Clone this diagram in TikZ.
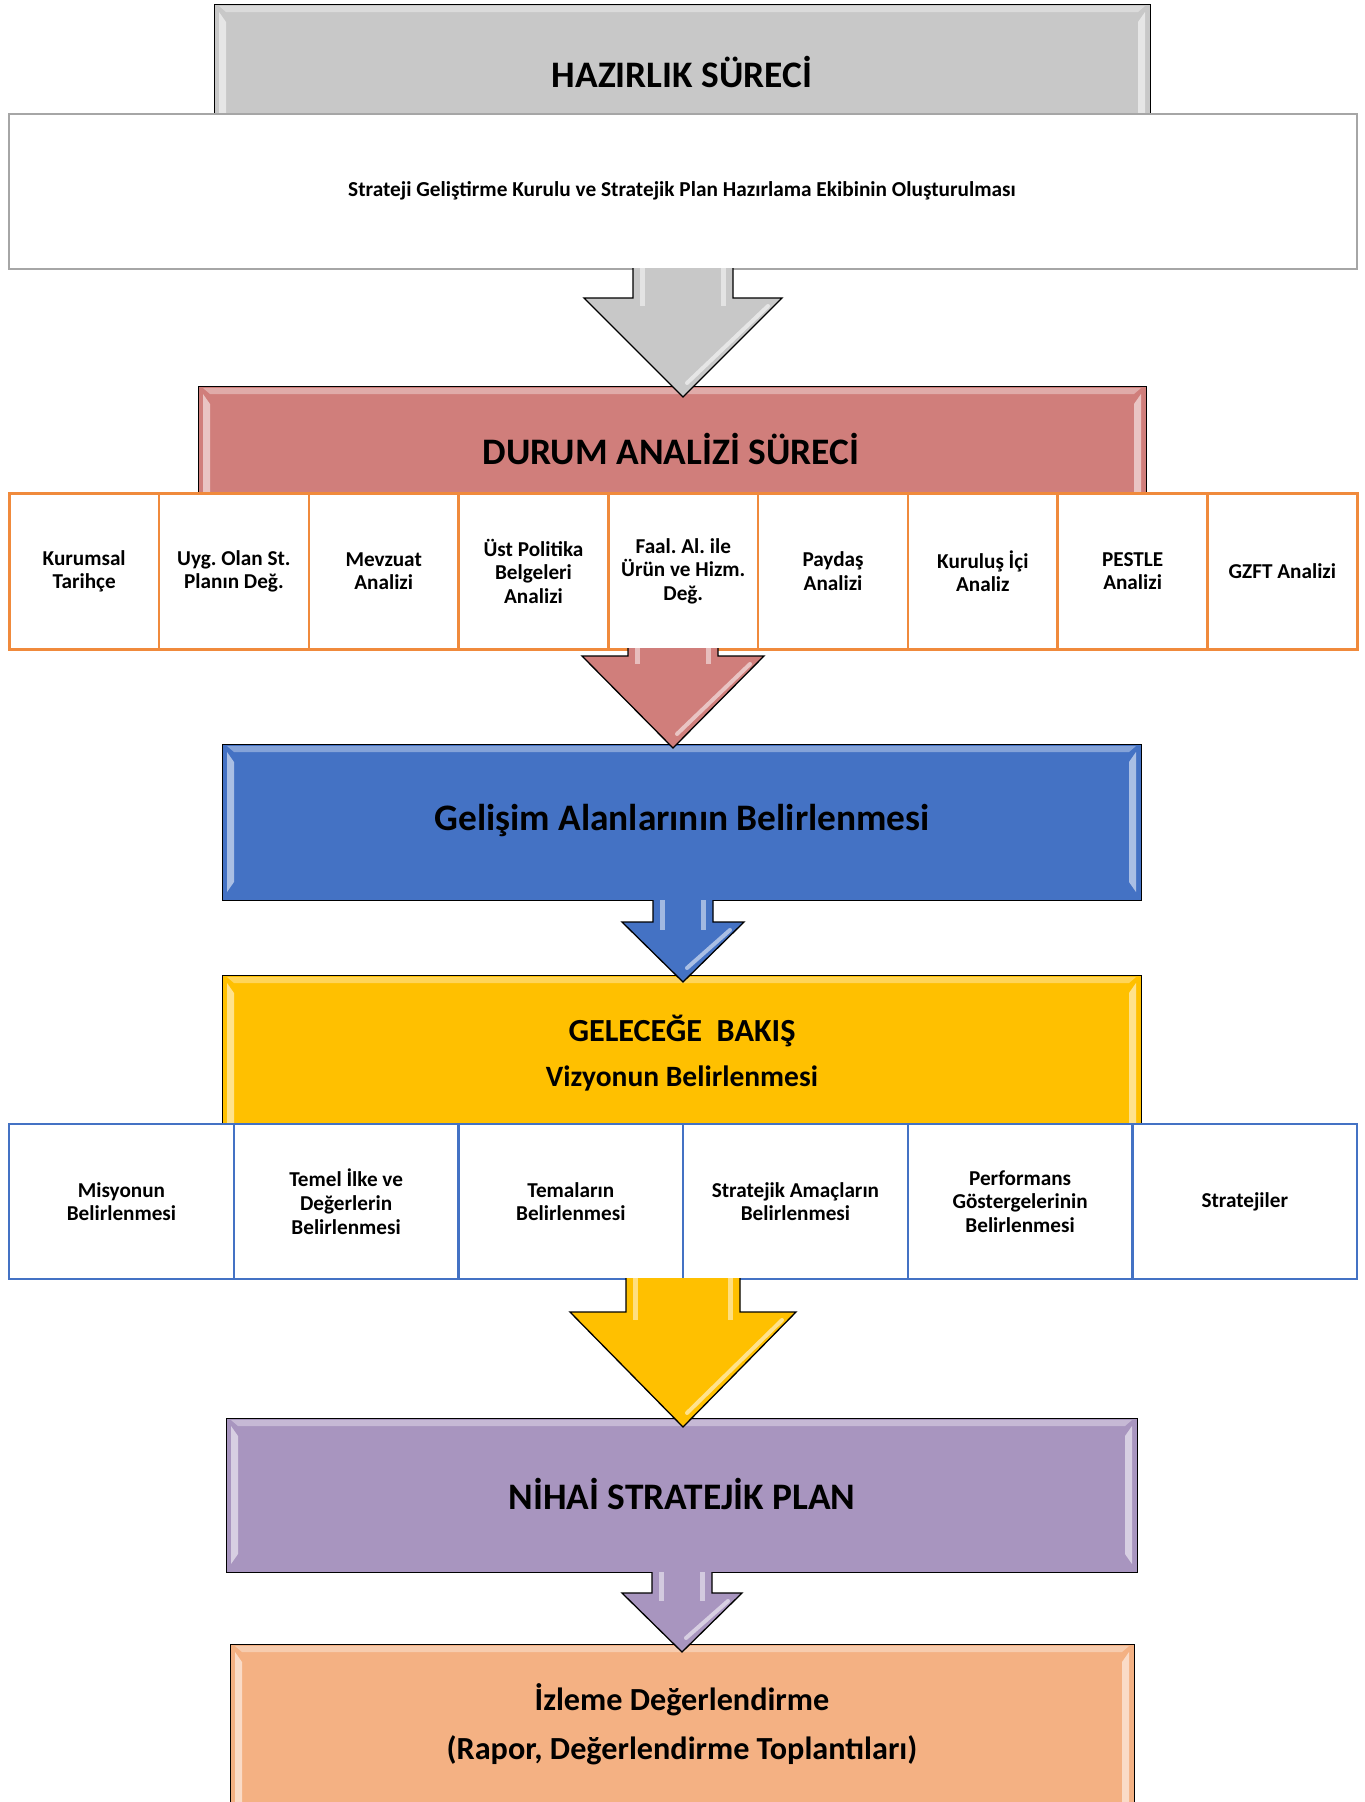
\documentclass[tikz,border=0pt]{standalone}
\usepackage{fontspec}
\setmainfont{Carlito}
\definecolor{grayF}{HTML}{C8C8C8}
\definecolor{redF}{HTML}{D07E7B}
\definecolor{blueF}{HTML}{4472C4}
\definecolor{yelF}{HTML}{FFC000}
\definecolor{purF}{HTML}{A895BF}
\definecolor{salF}{HTML}{F4B183}
\definecolor{orB}{HTML}{F08A3C}
\definecolor{grB}{HTML}{A6A6A6}
\definecolor{blB}{HTML}{4472C4}
\newcommand\bevelbox[4]{% x1 y1 x2 y2
  \fill[white,opacity=.55] (#1+5,#2+8) -- (#1+12,#2+18) -- (#1+12,#4-18) -- (#1+5,#4-8) -- cycle;
  \fill[white,opacity=.55] (#3-5,#2+8) -- (#3-12,#2+18) -- (#3-12,#4-18) -- (#3-5,#4-8) -- cycle;
  \fill[white,opacity=.35] (#1+5,#2+2) -- (#3-5,#2+2) -- (#3-12,#2+8) -- (#1+12,#2+8) -- cycle;
}
\newcommand\blkarrow[7]{% color, xc, yshaft, yhead, ytip, shaft hw, head hw
  \filldraw[fill=#1,draw=black,line width=1.3pt,line join=miter]
    (#2-#6,#3) -- (#2-#6,#4) -- (#2-#7,#4) -- (#2,#5) -- (#2+#7,#4) -- (#2+#6,#4) -- (#2+#6,#3);
  \fill[white,opacity=.5] (#2-#6+7,#3) rectangle (#2-#6+12,#4+8);
  \fill[white,opacity=.5] (#2+#6-12,#3) rectangle (#2+#6-7,#4+8);
  \draw[white,opacity=.55,line width=4pt,line cap=round] (#2+#7-14,#4+8) -- (#2+4,#5-14);
}
\begin{document}
\begin{tikzpicture}[x=1pt,y=-1pt,
  box/.style={draw=black,line width=1.3pt,anchor=north west,inner sep=0pt},
  ttl/.style={font=\fontsize{37.4}{41}\selectfont\bfseries,inner sep=0pt},
  sub/.style={font=\fontsize{32.2}{35}\selectfont\bfseries,inner sep=0pt},
  cellO/.style={draw=orB,line width=2.5pt,fill=white,anchor=north west,minimum width=149.8pt,minimum height=156pt,
     align=flush center,text width=140pt,inner sep=0pt,font=\fontsize{21.2}{23.6}\selectfont\bfseries\frenchspacing},
  cellB/.style={draw=blB,line width=2.2pt,fill=white,anchor=north west,minimum width=224.7pt,minimum height=155pt,
     align=flush center,text width=205pt,inner sep=0pt,font=\fontsize{21.2}{23.6}\selectfont\bfseries\frenchspacing}]
\useasboundingbox (0,0) rectangle (1365,1802);
\fill[white] (0,0) rectangle (1365,1802);

% gray box
\node[box,fill=grayF,minimum width=936pt,minimum height=200pt] (haz) at (214,4) {};
\bevelbox{214}{4}{1150}{204}
\node[draw=grB,line width=2.2pt,fill=white,anchor=north west,minimum width=1348pt,minimum height=155pt,inner sep=0pt] (str) at (8,113) {};
% red box
\node[box,fill=redF,minimum width=948pt,minimum height=150pt] (dur) at (198,386) {};
\bevelbox{198}{386}{1146}{536}
% orange cells
\foreach \t [count=\i] in {{Kurumsal\\Tarihçe},{Uyg. Olan St.\\Planın Değ.},{Mevzuat\\Analizi},{Üst Politika\\Belgeleri\\Analizi},{Faal. Al. ile\\Ürün ve Hizm.\\Değ.},{Paydaş\\Analizi},{Kuruluş İçi\\Analiz},{PESTLE\\Analizi},{GZFT Analizi}}
  \node[cellO] (o\i) at ({8+(\i-1)*149.78},492) {\t};
% blue box
\node[box,fill=blueF,minimum width=919pt,minimum height=156pt] (gel) at (222,744) {};
\bevelbox{222}{744}{1141}{900}
% yellow box
\node[box,fill=yelF,minimum width=919pt,minimum height=190pt] (gb) at (222,975) {};
\bevelbox{222}{975}{1141}{1165}
% blue cells
\foreach \t [count=\i] in {{Misyonun\\Belirlenmesi},{Temel İlke ve\\Değerlerin\\Belirlenmesi},{Temaların\\Belirlenmesi},{Stratejik Amaçların\\Belirlenmesi},{Performans\\Göstergelerinin\\Belirlenmesi},{Stratejiler}}
  \node[cellB] (b\i) at ({8+(\i-1)*224.67},1123) {\t};
% purple box
\node[box,fill=purF,minimum width=911pt,minimum height=154pt] (nih) at (226,1418) {};
\bevelbox{226}{1418}{1137}{1572}
% salmon box
\node[box,fill=salF,minimum width=904pt,minimum height=200pt] (izl) at (230,1644) {};
\bevelbox{230}{1644}{1134}{1844}

% block arrows
\blkarrow{grayF}{683}{268}{298}{397}{50}{99}
\blkarrow{redF}{673}{648}{656}{748}{45}{91}
\blkarrow{blueF}{683}{900}{922}{982}{30}{61}
\blkarrow{yelF}{683}{1278}{1312}{1427}{57}{113}
\blkarrow{purF}{682}{1572}{1593}{1652}{30}{60}

% texts
\node[ttl] (hazT) at (682,72) {HAZIRLIK SÜRECİ};
\node[font=\fontsize{21.3}{24}\selectfont\bfseries,inner sep=0pt] (strT) at (682,191) {Strateji Geliştirme Kurulu ve Stratejik Plan Hazırlama Ekibinin Oluşturulması};
\node[ttl] (durT) at (671,449) {DURUM ANALİZİ SÜRECİ};
\node[ttl] (gelT) at (682,821) {Gelişim Alanlarının Belirlenmesi};
\node[sub] (gbT) at (682,1031) {GELECEĞE\ \ BAKIŞ};
\node[font=\fontsize{29.5}{33}\selectfont\bfseries,inner sep=0pt] (vizT) at (682,1078) {Vizyonun Belirlenmesi};
\node[ttl] (nihT) at (682,1494) {NİHAİ STRATEJİK PLAN};
\node[sub] (izlT) at (682,1700) {İzleme Değerlendirme};
\node[sub] (rapT) at (682,1750) {(Rapor, Değerlendirme Toplantıları)};
\end{tikzpicture}
\end{document}
